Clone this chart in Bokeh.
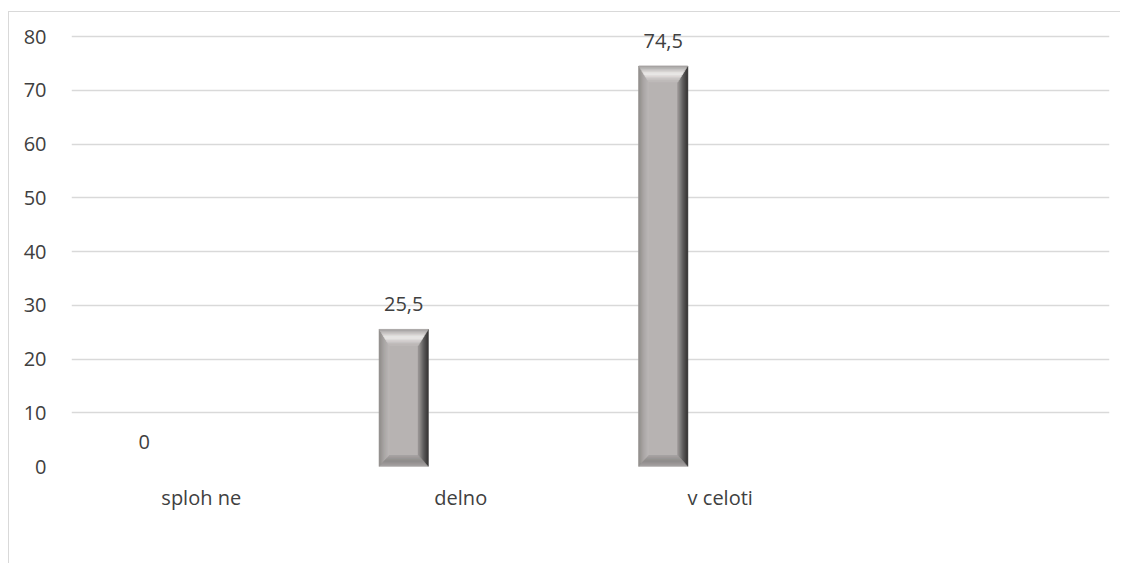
from bokeh.plotting import figure
from bokeh.models import FactorRange, Range1d, FixedTicker, LabelSet, ColumnDataSource
from bokeh.embed import file_html
from bokeh.resources import INLINE
from bokeh.core.properties import value

# ---- data ----
categories = ["sploh ne", "delno", "v celoti", " "]
values = [0, 25.5, 74.5, None]
y_ticks = [0, 10, 20, 30, 40, 50, 60, 70, 80]

FONT = "Open Sans"
TXT = "#404040"
GRID = "#d9d9d9"

# frame extends 20px above the top gridline so the top value label is not clipped
ML, MR, MT, MB = 62, 12, 4, 98
FRAME_W = 1038
FRAME_H = 450
px_per_unit = 430 / max(y_ticks)
y_end = FRAME_H / px_per_unit

p = figure(
    x_range=FactorRange(factors=categories, range_padding=0, factor_padding=0),
    y_range=Range1d(0, y_end),
    width=ML + FRAME_W + MR, height=MT + FRAME_H + MB,
    min_border_left=ML, min_border_right=MR, min_border_top=MT, min_border_bottom=MB,
    output_backend="svg", toolbar_location=None,
)
p.margin = (11, 0, 0, 8)
p.styles = {"border-left": f"1px solid {GRID}", "border-top": f"1px solid {GRID}"}
p.outline_line_color = None
p.background_fill_color = "white"
p.border_fill_color = "white"

# axes
p.yaxis.ticker = FixedTicker(ticks=y_ticks)
for ax in (p.xaxis[0], p.yaxis[0]):
    ax.axis_line_color = None
    ax.major_tick_line_color = None
    ax.minor_tick_line_color = None
    ax.major_label_text_font = FONT
    ax.major_label_text_font_size = "20px"
    ax.major_label_text_color = TXT
p.yaxis.major_label_standoff = 19
p.xaxis.major_label_standoff = 11
p.xgrid.grid_line_color = None
p.ygrid.grid_line_color = GRID
p.ygrid.grid_line_width = 1.3

# geometry of bars (in synthetic categorical units / data units)
px_per_cat = FRAME_W / len(categories)
dodge = -57 / px_per_cat
half_w = 24.5 / px_per_cat
bev_x = 10 / px_per_cat
bev_top = 16 / px_per_unit
bev_bot = 11 / px_per_unit


def lerp_col(c1, c2, t):
    a = [int(c1[i:i + 2], 16) for i in (1, 3, 5)]
    b = [int(c2[i:i + 2], 16) for i in (1, 3, 5)]
    return "#%02x%02x%02x" % tuple(round(a[k] + (b[k] - a[k]) * t) for k in range(3))


def grad(stops, t):
    n = len(stops) - 1
    i = min(int(t * n), n - 1)
    return lerp_col(stops[i], stops[i + 1], t * n - i)


N = 10
xs, ys, cols = [], [], []
for i, (cat, v) in enumerate(zip(categories, values)):
    if not v:
        continue
    cx = i + 0.5 + dodge
    L, R, B, T = cx - half_w, cx + half_w, 0, v
    # face
    xs.append([L, R, R, L]); ys.append([B, B, T, T]); cols.append("#b7b3b2")
    for k in range(N):
        t0, t1 = k / N, (k + 1) / N
        tm = (k + 0.5) / N
        # left bevel
        xs.append([L + t0 * bev_x, L + t0 * bev_x, L + t1 * bev_x, L + t1 * bev_x])
        ys.append([B + t0 * bev_bot, T - t0 * bev_top, T - t1 * bev_top, B + t1 * bev_bot])
        cols.append(grad(["#8d8a89", "#a9a5a4", "#bcb8b7"], tm))
        # right bevel
        xs.append([R - t0 * bev_x, R - t0 * bev_x, R - t1 * bev_x, R - t1 * bev_x])
        ys.append([B + t0 * bev_bot, T - t0 * bev_top, T - t1 * bev_top, B + t1 * bev_bot])
        cols.append(grad(["#2c2c2c", "#5a5858", "#9a9796"], tm))
        # top bevel
        xs.append([L + t0 * bev_x, R - t0 * bev_x, R - t1 * bev_x, L + t1 * bev_x])
        ys.append([T - t0 * bev_top, T - t0 * bev_top, T - t1 * bev_top, T - t1 * bev_top])
        cols.append(grad(["#9f9c9b", "#c8c5c4", "#efedec", "#d2cfce", "#b9b5b4"], tm))
        # bottom bevel
        xs.append([L + t0 * bev_x, R - t0 * bev_x, R - t1 * bev_x, L + t1 * bev_x])
        ys.append([B + t0 * bev_bot, B + t0 * bev_bot, B + t1 * bev_bot, B + t1 * bev_bot])
        cols.append(grad(["#a9a6a5", "#8f8c8b", "#a3a09f"], tm))

p.patches(xs=xs, ys=ys, fill_color=cols, line_color=cols, line_width=0.6)

# value labels
lx, ly, lt = [], [], []
for i, (cat, v) in enumerate(zip(categories, values)):
    if v is None:
        continue
    lx.append(i + 0.5 + dodge)
    ly.append(v)
    lt.append(f"{v:g}".replace(".", ","))
src = ColumnDataSource(dict(x=lx, y=ly, t=lt))
labels = LabelSet(x="x", y="y", text="t", source=src, text_align="center",
                  text_baseline="bottom", y_offset=18, text_font=value(FONT),
                  text_font_size=value("20px"), text_color=TXT)
p.add_layout(labels)

open("out.html", "w").write(file_html(p, INLINE))
